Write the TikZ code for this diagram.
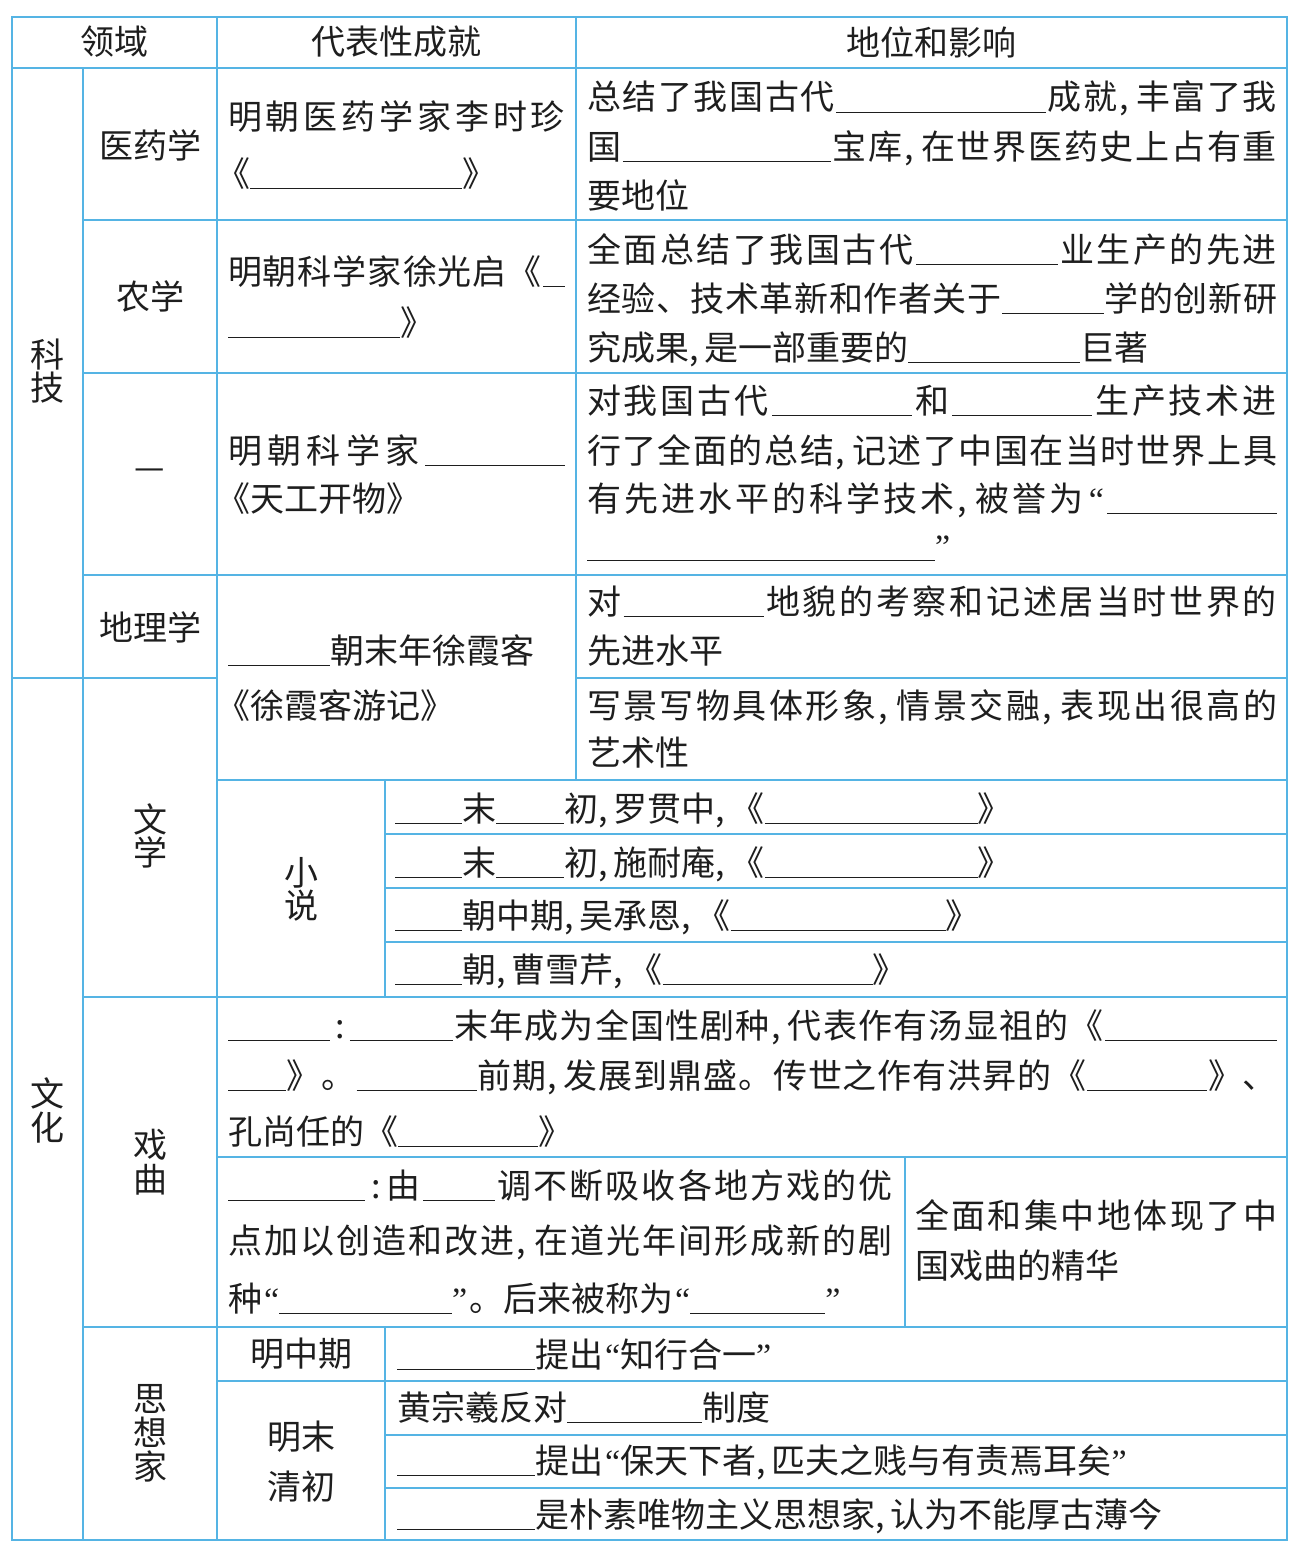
\documentclass[tikz,border=0pt]{standalone}
\usepackage{fontspec}
\newfontfamily\cjk{Noto Sans CJK SC}
\newfontfamily\latq{Liberation Serif}
\newlength\pxu \setlength\pxu{0.5pt}
\newcommand\bl[1]{\rule[-1.5pt]{#1\pxu}{0.6pt}}
\newcommand\cma{,\kern3pt}
\newcommand\cln{\kern2pt:\kern2pt}
\newcommand\oq{{\latq\kern1pt “}}
\newcommand\cq{{\latq ”\kern1pt}}
% justification: glue between every token
\def\jusEndDef{\jusEnd}
\def\jusFirst#1{#1\jusA}
\def\jusA#1{\def\jtmp{#1}\ifx\jtmp\jusEndDef\else\hskip 0pt plus 1fil#1\expandafter\jusA\fi}
\newcommand\jus[2]{\hbox to #1\pxu{\jusFirst#2\jusEnd}}
\definecolor{gridc}{RGB}{85,180,228}
\definecolor{inkc}{RGB}{30,30,30}
\begin{document}
\begin{tikzpicture}[x=0.5pt,y=-0.5pt,
  tx/.style={anchor=base west,inner sep=0pt,outer sep=0pt,font=\cjk\fontsize{17pt}{20pt}\selectfont,text=inkc},
  lab/.style={anchor=center,inner sep=0pt,outer sep=0pt,align=center,text=inkc,font=\cjk\fontsize{17pt}{#1}\selectfont},
  lab/.default=16.5pt,
  gl/.style={draw=gridc,line width=0.9pt},
  bd/.style={draw=gridc,line width=1.2pt}]
\useasboundingbox (0,0) rectangle (1304,1552);
\fill[white] (0,0) rectangle (1304,1552);
% ---------- grid ----------
\draw[gl] (12,68) -- (1287,68);
\draw[gl] (83,220) -- (1287,220);
\draw[gl] (83,373) -- (1287,373);
\draw[gl] (83,575) -- (1287,575);
\draw[gl] (12,678) -- (217,678);
\draw[gl] (576,678) -- (1287,678);
\draw[gl] (217,780) -- (1287,780);
\draw[gl] (385,834) -- (1287,834);
\draw[gl] (385,888) -- (1287,888);
\draw[gl] (385,942) -- (1287,942);
\draw[gl] (83,997) -- (1287,997);
\draw[gl] (217,1157) -- (1287,1157);
\draw[gl] (83,1327) -- (1287,1327);
\draw[gl] (217,1381) -- (1287,1381);
\draw[gl] (385,1435) -- (1287,1435);
\draw[gl] (385,1488) -- (1287,1488);
\draw[gl] (83,68) -- (83,1540);
\draw[gl] (217,17) -- (217,1540);
\draw[gl] (385,780) -- (385,997);
\draw[gl] (385,1327) -- (385,1540);
\draw[gl] (576,17) -- (576,780);
\draw[gl] (905,1157) -- (905,1327);
\draw[bd] (12,17) rectangle (1287,1540);
% ---------- header ----------
\node[lab] (h1) at (114,42) {领域};
\node[lab] (h2) at (396,42) {代表性成就};
\node[lab] (h3) at (931,42) {地位和影响};
% ---------- left labels ----------
\node[lab] (kj) at (47,371) {科\\技};
\node[lab=17pt] (wh) at (47,1110) {文\\化};
\node[lab] (a0) at (150,145) {医药学};
\node[lab] (b0) at (150,296) {农学};
\node[lab] (c0) at (150,474) {—};
\node[lab] (d0) at (150,627) {地理学};
\node[lab] (wx) at (150,836) {文\\学};
\node[lab] (xs) at (301,889) {小\\说};
\node[lab=17.5pt] (xq) at (150,1162) {戏\\曲};
\node[lab=17pt] (sx) at (150,1433) {思\\想\\家};
\node[lab] (mz) at (301,1354) {明中期};
\node[lab=25pt] (mm) at (301,1462) {明末\\清初};
% ---------- 医药学 ----------
\node[tx] (a1) at (228,130) {\jus{337}{明朝医药学家李时珍}};
\node[tx] (a2) at (216,186) {《\bl{212}》};
\node[tx] (a3) at (587,110) {\jus{690}{总结了我国古代{\bl{210}}成就\cma 丰富了我}};
\node[tx] (a4) at (587,159) {\jus{690}{国{\bl{208}}宝库\cma 在世界医药史上占有重}};
\node[tx] (a5) at (587,208) {要地位};
% ---------- 农学 ----------
\node[tx] (b1) at (228,284) {\jus{337}{明朝科学家徐光启《{\bl{22}}}};
\node[tx] (b2) at (228,335) {\bl{172}》};
\node[tx] (b3) at (587,262) {\jus{690}{全面总结了我国古代{\bl{142}}业生产的先进}};
\node[tx] (b4) at (587,311) {\jus{690}{经验、技术革新和作者关于{\bl{102}}学的创新研}};
\node[tx] (b5) at (587,360) {究成果\cma 是一部重要的\bl{172}巨著};
% ---------- — ----------
\node[tx] (c1) at (228,463) {\jus{337}{明朝科学家{\bl{140}}}};
\node[tx] (c2) at (216,511) {《天工开物》};
\node[tx] (c3) at (587,413) {\jus{690}{对我国古代{\bl{140}}和{\bl{140}}生产技术进}};
\node[tx] (c4) at (587,463) {\jus{690}{行了全面的总结\cma 记述了中国在当时世界上具}};
\node[tx] (c5) at (587,511) {\jus{690}{有先进水平的科学技术\cma 被誉为\oq{\bl{170}}}};
\node[tx] (c6) at (587,558) {\bl{348}\cq};
% ---------- 地理学 / 文学 ----------
\node[tx] (d1) at (228,663) {\bl{102}朝末年徐霞客};
\node[tx] (d2) at (216,718) {《徐霞客游记》};
\node[tx] (d3) at (587,614) {\jus{690}{对{\bl{140}}地貌的考察和记述居当时世界的}};
\node[tx] (d4) at (587,663) {先进水平};
\node[tx] (e1) at (587,718) {\jus{690}{写景写物具体形象\cma 情景交融\cma 表现出很高的}};
\node[tx] (e2) at (587,765) {艺术性};
% ---------- 小说 ----------
\node[tx] (n1) at (395,821) {\bl{67}末\bl{68}初\cma 罗贯中\cma 《\bl{213}》};
\node[tx] (n2) at (395,875) {\bl{67}末\bl{68}初\cma 施耐庵\cma 《\bl{213}》};
\node[tx] (n3) at (395,928) {\bl{67}朝中期\cma 吴承恩\cma 《\bl{215}》};
\node[tx] (n4) at (395,982) {\bl{67}朝\cma 曹雪芹\cma 《\bl{210}》};
% ---------- 戏曲 ----------
\node[tx] (q1) at (228,1038) {\jus{1049}{{\bl{102}}\cln{\bl{103}}末年成为全国性剧种\cma 代表作有汤显祖的《{\bl{172}}}};
\node[tx] (q2) at (228,1088) {\jus{1049}{{\bl{58}}》。{\bl{120}}前期\cma 发展到鼎盛。传世之作有洪昇的《{\bl{120}}》、}};
\node[tx] (q3) at (228,1144) {孔尚任的《\bl{140}》};
\node[tx] (r1) at (228,1198) {\jus{665}{{\bl{137}}\cln 由{\bl{72}}调不断吸收各地方戏的优}};
\node[tx] (r2) at (228,1253) {\jus{665}{点加以创造和改进\cma 在道光年间形成新的剧}};
\node[tx] (r3) at (228,1311) {种\oq\bl{173}\cq。后来被称为\oq\bl{135}\cq};
\node[tx] (r4) at (915,1228) {\jus{362}{全面和集中地体现了中}};
\node[tx] (r5) at (915,1278) {国戏曲的精华};
% ---------- 思想家 ----------
\node[tx] (s1) at (397,1367) {\bl{138}提出\oq 知行合一\cq};
\node[tx] (s2) at (397,1420) {黄宗羲反对\bl{135}制度};
\node[tx] (s3) at (397,1473) {\bl{138}提出\oq 保天下者\cma 匹夫之贱与有责焉耳矣\cq};
\node[tx] (s4) at (397,1527) {\bl{138}是朴素唯物主义思想家\cma 认为不能厚古薄今};
\end{tikzpicture}
\end{document}
